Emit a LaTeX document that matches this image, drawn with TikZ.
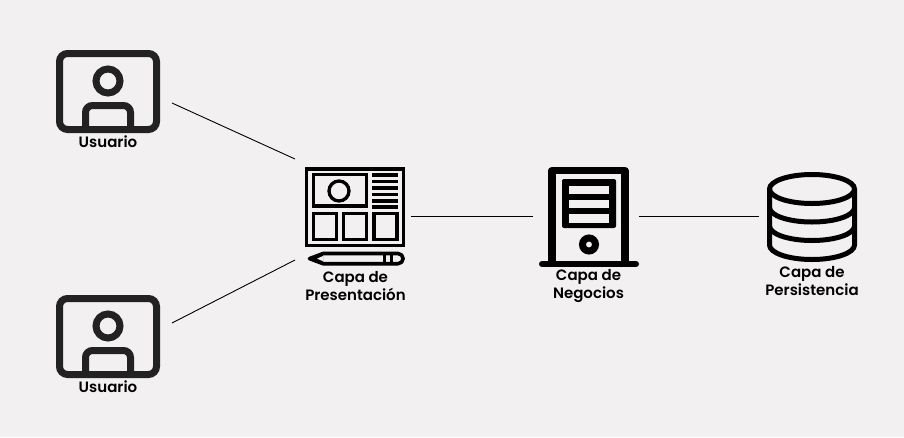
\documentclass[tikz,border=0pt]{standalone}
\usepackage{fontspec}
\setmainfont{Poppins}[BoldFont={Poppins SemiBold}]
\definecolor{bgc}{HTML}{F2F0F1}
\definecolor{ink}{HTML}{222222}
\tikzset{
  label text/.style={font=\bfseries\fontsize{15}{18}\selectfont,align=center,text=black,inner sep=0pt},
  link/.style={draw=black,line width=0.9pt},
  usericon/.pic={
    \draw[ink,line width=7pt,rounded corners=8pt] (59.5,53.5) rectangle (156.5,129.5);
    \draw[ink,line width=7pt] (108,81) circle (12);
    \draw[ink,line width=7pt,rounded corners=7pt] (85.5,129.5) -- (85.5,105.5) -- (130.5,105.5) -- (130.5,129.5);
  }
}
\begin{document}
\begin{tikzpicture}[x=1pt,y=-1pt]
\useasboundingbox[fill=bgc] (0,0) rectangle (904,437);

% users
\pic at (0,0) {usericon};
\pic at (0,245) {usericon};
\node[label text] (u1) at (108,142) {Usuario};
\node[label text] (u2) at (108,387) {Usuario};

% presentation icon
\draw[black,line width=3.5pt] (306.7,169) rectangle (403.3,245.6);
\draw[black,line width=3.3pt] (313.5,174.5) rectangle (366.5,206);
\draw[black,line width=3.3pt] (339,191) circle (10);
\foreach \yy in {175,181.5,188,194.5,201,207}
  \draw[black,line width=3.3pt] (372,\yy) -- (398,\yy);
\draw[black,line width=3.3pt] (313.5,213.5) rectangle (336.5,239.5);
\draw[black,line width=3.3pt] (343.5,213.5) rectangle (366.5,239.5);
\draw[black,line width=3.3pt] (374,213.5) rectangle (397,239.5);
\draw[black,line width=3.6pt,line join=round] (309.5,258.6) -- (323,253.5) -- (398,253.5) arc (-90:90:5.1) -- (323,263.7) -- cycle;
\fill[black] (309.5,258.6) -- (323,253.5) -- (323,263.7) -- cycle;
\fill[bgc] (317,258.6) -- (323,256) -- (323,261.2) -- cycle;
\draw[black,line width=3pt] (384,253.5) -- (384,263.7);
\draw[black,line width=3pt] (391,253.5) -- (391,263.7);
\node[label text] (p) at (355.5,286) {Capa de\\Presentación};

% business icon
\draw[black,line width=7.5pt,line join=round] (552,264) -- (552,170.7) -- (625,170.7) -- (625,264);
\draw[black,line width=6pt,line cap=round] (542,264) -- (636,264);
\fill[black,rounded corners=2pt] (562,179) rectangle (616,228);
\fill[bgc] (569,186) rectangle (609,193.5);
\fill[bgc] (569,200) rectangle (609,207.5);
\fill[bgc] (569,214) rectangle (609,222.5);
\draw[black,line width=7pt] (589,244.5) circle (6.5);
\node[label text] (n) at (588.5,286) {Capa de\\Negocios};

% persistence icon
\draw[black,line width=5pt] (812,189) ellipse (42.5 and 14.5);
\draw[black,line width=5pt] (769.5,189) -- (769.5,245) arc (180:0:42.5 and 14.5) -- (854.5,189);
\draw[black,line width=5pt] (769.5,207.5) arc (180:0:42.5 and 14.5);
\draw[black,line width=5pt] (769.5,226) arc (180:0:42.5 and 14.5);
\node[label text] (d) at (812,281.5) {Capa de\\Persistencia};

% connectors
\coordinate (a1) at (172,103);
\coordinate (b1) at (295,159);
\coordinate (a2) at (172,323);
\coordinate (b2) at (295,260);
\coordinate (c1) at (411,216);
\coordinate (c2) at (533,216);
\coordinate (c3) at (639,216);
\coordinate (c4) at (759,216);
\draw[link] (a1) -- (b1);
\draw[link] (a2) -- (b2);
\draw[link] (c1) -- (c2);
\draw[link] (c3) -- (c4);
\end{tikzpicture}
\end{document}
